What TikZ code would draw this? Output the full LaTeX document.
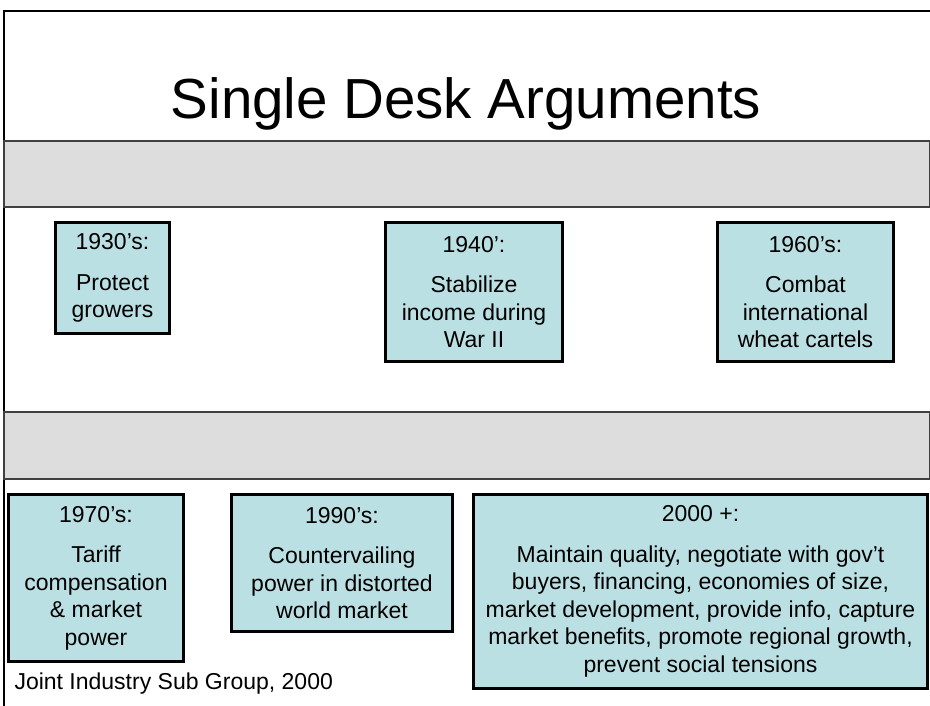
\documentclass[tikz,border=0pt]{standalone}
\usepackage{fontspec}
\setmainfont{Liberation Sans}
\usepackage{xcolor}

\definecolor{boxcyan}{HTML}{BBE0E3}
\definecolor{bandgray}{HTML}{DDDDDD}

\tikzset{
    period/.style={draw=black, line width=2.8pt, fill=boxcyan, align=center,
        inner sep=0pt, font=\fontsize{23}{27.5}\selectfont},
    band/.style={fill=bandgray, draw=black!75, line width=1.2pt}
}

\begin{document}
\begin{tikzpicture}[x=1pt, y=-1pt]
    \useasboundingbox (0,0) rectangle (930,706);
    % Frame
    \draw[line width=2pt] (4,706) -- (4,11) -- (930,11);
    % Title
    \node[anchor=base, font=\fontsize{56.5}{60}\selectfont] (title) at (466,119) {Single Desk Arguments};
    % Grey bands
    \draw[band] (4,141) rectangle (930,207);
    \draw[band] (4,412) rectangle (930,479);
    % Upper row
    \node[period, minimum width=114.5pt, minimum height=111.5pt] (p1930) at (112.5,278)
        {1930’s:\\[13pt]Protect\\growers};
    \node[period, minimum width=177.5pt, minimum height=139.5pt] (p1940) at (474,292)
        {1940’:\\[13pt]Stabilize\\income during\\War II};
    \node[period, minimum width=176.5pt, minimum height=139.5pt] (p1960) at (805.5,292)
        {1960’s:\\[13pt]Combat\\international\\wheat cartels};
    % Lower row
    \node[period, minimum width=175.5pt, minimum height=167.5pt] (p1970) at (96,578)
        {1970’s:\\[13pt]Tariff\\compensation\\\& market\\power};
    \node[period, minimum width=221.5pt, minimum height=137.5pt] (p1990) at (342,563)
        {1990’s:\\[13pt]Countervailing\\power in distorted\\world market};
    \node[period, minimum width=454.5pt, minimum height=194.5pt] (p2000) at (700.5,591.5)
        {2000 +:\\[13pt]Maintain quality, negotiate with gov’t\\buyers, financing, economies of size,\\market development, provide info, capture\\market benefits, promote regional growth,\\prevent social tensions};
    % Source
    \node[anchor=base west, font=\fontsize{23}{27}\selectfont] (source) at (11,689) {Joint Industry Sub Group, 2000};
\end{tikzpicture}
\end{document}
